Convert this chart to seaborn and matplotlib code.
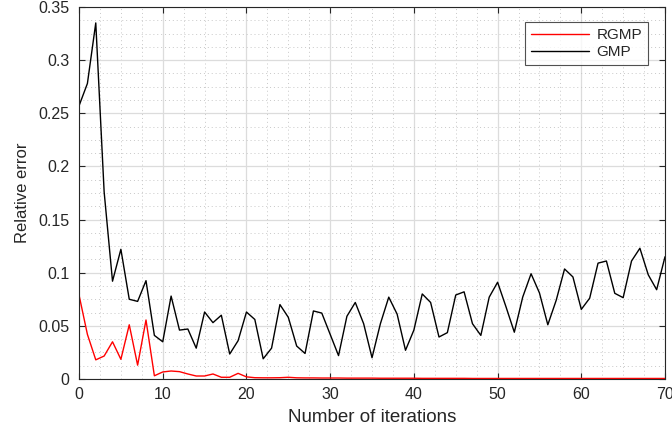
import numpy as np
import pandas as pd
import matplotlib
matplotlib.use("Agg")
import matplotlib.pyplot as plt
from matplotlib.ticker import MultipleLocator
import seaborn as sns

iterations = list(range(0, 71))

gmp = [0.257, 0.278, 0.335, 0.176, 0.092, 0.122, 0.075, 0.073, 0.0925, 0.041,
       0.035, 0.078, 0.046, 0.047, 0.029, 0.063, 0.053, 0.060, 0.0235, 0.036,
       0.063, 0.056, 0.019, 0.029, 0.070, 0.058, 0.031, 0.024, 0.064, 0.062,
       0.042, 0.022, 0.059, 0.072, 0.052, 0.020, 0.052, 0.077, 0.061, 0.027,
       0.046, 0.080, 0.072, 0.0395, 0.0436, 0.079, 0.082, 0.052, 0.041, 0.077,
       0.091, 0.068, 0.044, 0.077, 0.099, 0.081, 0.051, 0.074, 0.1035, 0.096,
       0.0655, 0.076, 0.109, 0.111, 0.0806, 0.0765, 0.111, 0.123, 0.098, 0.084,
       0.115]

rgmp = [0.079, 0.042, 0.018, 0.0216, 0.035, 0.0185, 0.051, 0.013, 0.0555, 0.003,
        0.0066, 0.0075, 0.0069, 0.0047, 0.0028, 0.0028, 0.0047, 0.0016, 0.0016, 0.0053,
        0.002, 0.0012, 0.0011, 0.0011, 0.0012, 0.0016, 0.0011, 0.0010, 0.0010, 0.0009,
        0.0009, 0.0009, 0.0008, 0.0008, 0.0008, 0.0008, 0.0007, 0.0007, 0.0007, 0.0007,
        0.0007, 0.0006, 0.0006, 0.0006, 0.0006, 0.0006, 0.0006, 0.0005, 0.0005, 0.0005,
        0.0005, 0.0005, 0.0005, 0.0005, 0.0005, 0.0005, 0.0005, 0.0005, 0.0005, 0.0005,
        0.0005, 0.0005, 0.0005, 0.0005, 0.0005, 0.0005, 0.0005, 0.0005, 0.0005, 0.0005,
        0.0005]

series_names = ["RGMP", "GMP"]
series_colors = {"RGMP": "#ff0000", "GMP": "#000000"}

x_ticks = [0, 10, 20, 30, 40, 50, 60, 70]
y_ticks = [0, 0.05, 0.1, 0.15, 0.2, 0.25, 0.3, 0.35]
y_tick_labels = ["0", "0.05", "0.1", "0.15", "0.2", "0.25", "0.3", "0.35"]

df = pd.DataFrame({
    "iteration": iterations * 2,
    "error": rgmp + gmp,
    "method": ["RGMP"] * len(rgmp) + ["GMP"] * len(gmp),
})

sns.set_theme(style="white")
plt.rcParams["font.family"] = ["Liberation Sans", "DejaVu Sans"]

fig = plt.figure(figsize=(6.72, 4.29), dpi=100)
ax = fig.add_axes([0.1176, 0.1166, 0.872, 0.8671])

sns.lineplot(data=df, x="iteration", y="error", hue="method",
             hue_order=series_names, palette=series_colors,
             linewidth=1.0, ax=ax, legend=True)

ax.set_xlim(0, 70)
ax.set_ylim(0, 0.35)
ax.set_xticks(x_ticks)
ax.set_yticks(y_ticks)
ax.set_yticklabels(y_tick_labels)
ax.xaxis.set_minor_locator(MultipleLocator(2.5))
ax.yaxis.set_minor_locator(MultipleLocator(0.0125))

ax.grid(True, which="major", color="#dcdcdc", linewidth=0.9, linestyle="-")
ax.grid(True, which="minor", color="#c8c8c8", linewidth=0.7, linestyle=(0, (1, 3)))
ax.set_axisbelow(True)

for s in ax.spines.values():
    s.set_color("#262626")
    s.set_linewidth(0.8)

ax.tick_params(which="major", direction="in", length=4, width=0.8, color="#262626",
               top=True, right=True, bottom=True, left=True, labelsize=11.5,
               labelcolor="#262626")
ax.tick_params(axis="x", which="major", pad=6)
ax.tick_params(axis="y", which="major", pad=7)
ax.tick_params(which="minor", length=0, top=False, right=False)

ax.set_xlabel("Number of iterations", fontsize=13.5, color="#262626", labelpad=5)
ax.set_ylabel("Relative error", fontsize=12, color="#262626", labelpad=6)

leg = ax.legend(loc="upper right", bbox_to_anchor=(0.971, 0.96), borderaxespad=0,
                fontsize=11, frameon=True, fancybox=False, edgecolor="#262626",
                handlelength=3.8, borderpad=0.4, labelspacing=0.22,
                handletextpad=0.45)
leg.get_frame().set_linewidth(0.8)
for line in leg.get_lines():
    line.set_linewidth(1.0)

fig.savefig("out.png", dpi=100)
